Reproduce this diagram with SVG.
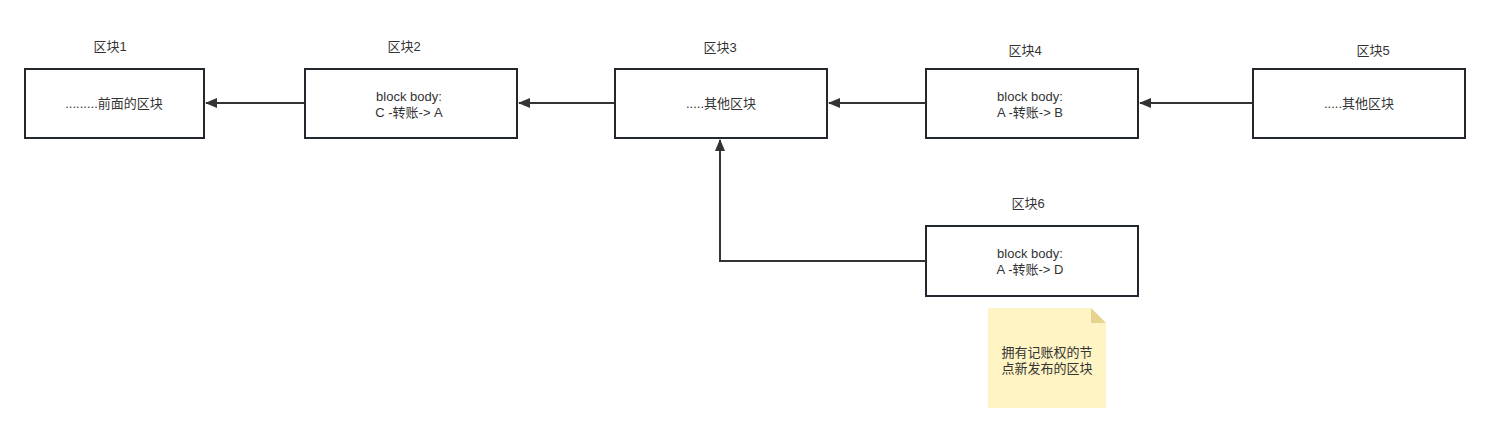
<svg xmlns="http://www.w3.org/2000/svg" width="1490" height="433" viewBox="0 0 1490 433">
<style>
text{font-family:"Liberation Sans","Noto Sans CJK SC",sans-serif;font-size:13px;fill:#333;text-anchor:middle;dominant-baseline:central}
.box{fill:#fff;stroke:#23272e;stroke-width:2}
.edge{fill:none;stroke:#333;stroke-width:2}
</style>
<defs>
<marker id="arr" viewBox="0 0 12 10" refX="11" refY="5" markerWidth="12" markerHeight="10" markerUnits="userSpaceOnUse" orient="auto">
<path d="M0,0 L12,5 L0,10 z" fill="#333"/>
</marker>
</defs>
<rect width="1490" height="433" fill="#fff"/>
<g id="connectors">
<path class="edge" d="M304,103 H206" marker-end="url(#arr)"/>
<path class="edge" d="M614,103 H519" marker-end="url(#arr)"/>
<path class="edge" d="M926,103 H829" marker-end="url(#arr)"/>
<path class="edge" d="M1253,103 H1140" marker-end="url(#arr)"/>
<path class="edge" d="M926,261 H720 V140" marker-end="url(#arr)"/>
</g>
<g id="block1">
<text x="110" y="46">区块1</text>
<rect class="box" x="25" y="69" width="179" height="69"/>
<text x="114" y="103">.........前面的区块</text>
</g>
<g id="block2">
<text x="404" y="46">区块2</text>
<rect class="box" x="305" y="69" width="212" height="69"/>
<text x="409" y="96">block body:</text>
<text x="409" y="112">C -转账-&gt; A</text>
</g>
<g id="block3">
<text x="720" y="47">区块3</text>
<rect class="box" x="615" y="69" width="212" height="69"/>
<text x="721" y="103">.....其他区块</text>
</g>
<g id="block4">
<text x="1025" y="50">区块4</text>
<rect class="box" x="926" y="69" width="212" height="69"/>
<text x="1030" y="96">block body:</text>
<text x="1030" y="112">A -转账-&gt; B</text>
</g>
<g id="block5">
<text x="1373" y="50">区块5</text>
<rect class="box" x="1253" y="69" width="212" height="69"/>
<text x="1359" y="103">.....其他区块</text>
</g>
<g id="block6">
<text x="1028" y="203">区块6</text>
<rect class="box" x="926" y="226" width="212" height="70"/>
<text x="1030" y="253">block body:</text>
<text x="1030" y="269">A -转账-&gt; D</text>
</g>
<g id="note">
<path d="M988,308 H1091 L1106,323 V408 H988 Z" fill="#fff4c3"/>
<path d="M1091,308 L1106,323 H1091 Z" fill="#e6d38f"/>
<text x="1047" y="352">拥有记账权的节</text>
<text x="1047" y="368">点新发布的区块</text>
</g>
</svg>
